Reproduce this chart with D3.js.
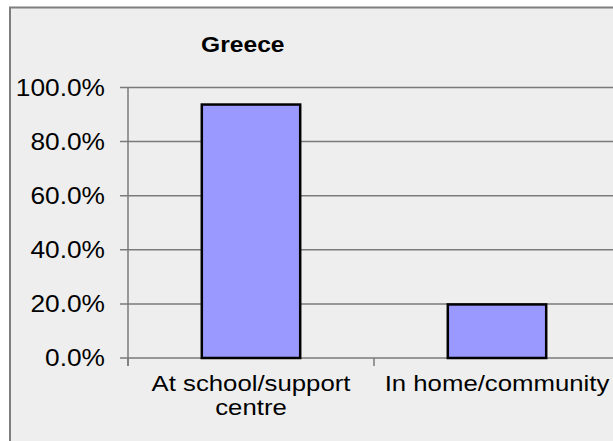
<!DOCTYPE html>
<html>
<head>
<meta charset="utf-8">
<script src="https://cdn.jsdelivr.net/npm/d3@7"></script>
<style>
html,body{margin:0;padding:0;background:#fff;}
svg{display:block;}
text{font-family:"Liberation Sans", Arial, sans-serif;fill:#000;}
</style>
</head>
<body>
<script>
const title = "Greece";
const categories = [["At school/support", "centre"], ["In home/community"]];
const values = [93.7, 19.8];
const yTicks = [0, 20, 40, 60, 80, 100];

const W = 613, H = 441;
const svg = d3.select("body").append("svg").attr("width", W).attr("height", H);

// chart area background with border (extends past right/bottom)
svg.append("rect").attr("x", 10).attr("y", 7.5).attr("width", 640).attr("height", 480)
  .attr("fill", "#eeeeee").attr("stroke", "#7f7f7f").attr("stroke-width", 2);

const plot = {left: 128, right: 620, top: 87.5, bottom: 358};
const x = d3.scaleBand().domain(d3.range(categories.length)).range([plot.left, plot.right]).padding(0);
const y = d3.scaleLinear().domain([0, 100]).range([plot.bottom, plot.top]);
const sx = 1.12; // slightly wide lettering as in the original

// gridlines + y ticks
svg.append("g").selectAll("line").data(yTicks).join("line")
  .attr("x1", plot.left - 8).attr("x2", plot.right)
  .attr("y1", d => y(d)).attr("y2", d => y(d))
  .attr("stroke", "#7a7a7a").attr("stroke-width", 1.5);

// y axis line
svg.append("line").attr("x1", plot.left).attr("x2", plot.left)
  .attr("y1", y(100)).attr("y2", y(0) + 8)
  .attr("stroke", "#7a7a7a").attr("stroke-width", 1.5);

// category ticks
const catTicks = d3.range(categories.length + 1).map(i => i < categories.length ? x(i) : x(i - 1) + x.bandwidth());
svg.append("g").selectAll("line").data(catTicks).join("line")
  .attr("x1", d => d).attr("x2", d => d)
  .attr("y1", y(0)).attr("y2", y(0) + 8)
  .attr("stroke", "#7a7a7a").attr("stroke-width", 1.5);

// y labels
yTicks.forEach(d => {
  svg.append("g").attr("transform", `translate(105,${y(d)}) scale(${sx},1)`)
    .append("text").attr("x", 0).attr("y", 0).attr("dy", "0.36em")
    .attr("text-anchor", "end").attr("font-size", 23.5)
    .text(d.toFixed(1) + "%");
});

// bars
const bw = x.bandwidth() * 0.4;
svg.append("g").selectAll("rect").data(values).join("rect")
  .attr("x", (d, i) => x(i) + x.bandwidth() / 2 - bw / 2)
  .attr("y", d => y(d))
  .attr("width", bw)
  .attr("height", d => y(0) - y(d))
  .attr("fill", "#9999ff").attr("stroke", "#000").attr("stroke-width", 2.5);

// category labels
categories.forEach((lines, i) => {
  const cx = x(i) + x.bandwidth() / 2;
  const g = svg.append("g").attr("transform", `translate(${cx},0) scale(${sx},1)`);
  g.selectAll("text").data(lines).join("text")
    .attr("x", 0).attr("y", (d, j) => 391 + j * 24)
    .attr("text-anchor", "middle").attr("font-size", 23)
    .text(d => d);
});

// title
svg.append("g").attr("transform", `translate(201,52) scale(${sx},1)`)
  .append("text").attr("x", 0).attr("y", 0).attr("font-size", 22)
  .attr("font-weight", "bold").text(title);
</script>
</body>
</html>
